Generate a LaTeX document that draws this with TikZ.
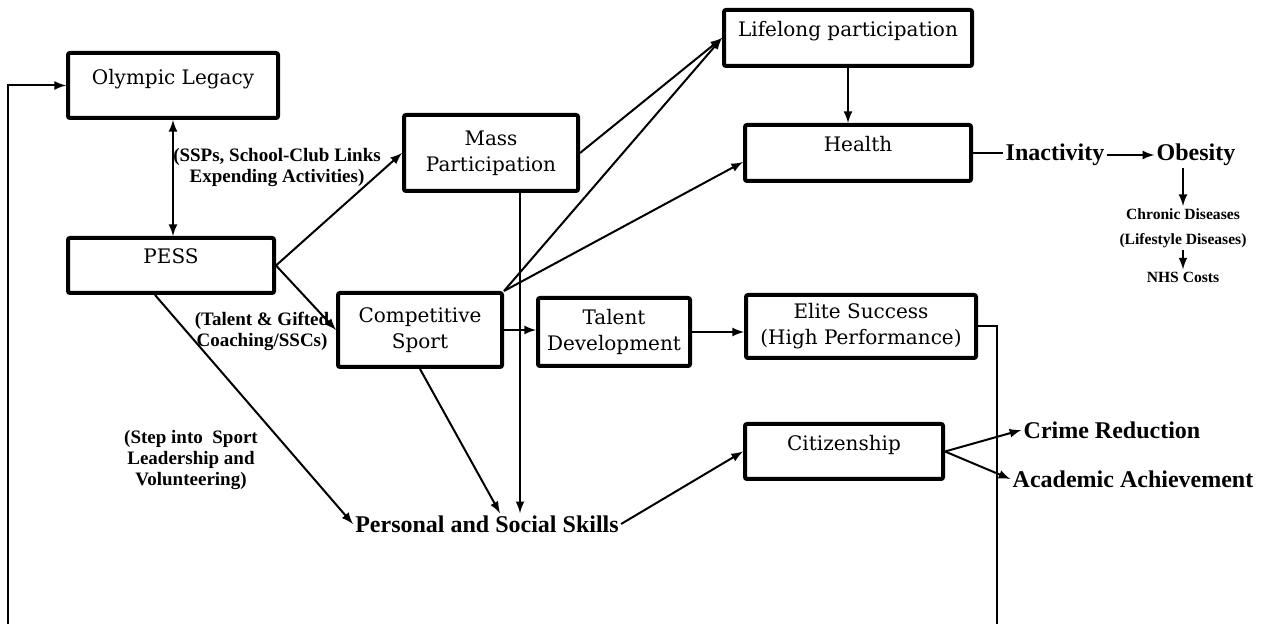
\documentclass[tikz,border=0pt]{standalone}
\usepackage{fontspec}
\setmainfont{DejaVu Serif}
\newfontfamily\lblfont{Liberation Serif}
\usepackage{tikz}
\usetikzlibrary{positioning,shapes,arrows}
\tikzstyle{squared} = [rectangle, rounded corners=1pt, line width=2pt, draw=black, align=center, inner sep=2pt, font=\fontsize{10}{13}\selectfont]
\tikzstyle{lift} = [text depth=9pt]
\tikzstyle{plain} = [align=center, inner sep=1pt, font=\lblfont\bfseries\fontsize{12}{14}\selectfont]
\tikzstyle{note} = [align=center, inner sep=1pt, font=\lblfont\bfseries\fontsize{9.5}{10.5}\selectfont]
\tikzstyle{small} = [align=center, inner sep=1pt, font=\lblfont\bfseries\fontsize{7.8}{12.5}\selectfont]
\tikzstyle{connect} = [line width=1pt,-latex]
\tikzstyle{link} = [line width=1pt]

\begin{document}
\begin{tikzpicture}[x=0.5pt,y=-0.5pt]
			\useasboundingbox (0,0) rectangle (1285,624);
			\clip (0,0) rectangle (1285,624);
			% boxes
			\node (olympic) [squared,lift,minimum width=105pt,minimum height=32.5pt] at (173,85.5) {Olympic Legacy};
			\node (pess) [squared,lift,minimum width=103pt,minimum height=27.5pt] at (171,265.5) {PESS};
			\node (mass) [squared,minimum width=87pt,minimum height=38pt] at (491,153) {Mass\\Participation};
			\node (lifelong) [squared,lift,minimum width=124pt,minimum height=28pt] at (848,38) {Lifelong participation};
			\node (health) [squared,lift,minimum width=113pt,minimum height=28pt] at (858,153) {Health};
			\node (comp) [squared,minimum width=82pt,minimum height=37pt] at (420,330) {Competitive\\Sport};
			\node (talent) [squared,minimum width=76pt,minimum height=34pt] at (614,332) {Talent\\Development};
			\node (elite) [squared,minimum width=115pt,minimum height=31.5pt] at (861,326.5) {Elite Success\\(High Performance)};
			\node (citizen) [squared,lift,minimum width=99pt,minimum height=27.5pt] at (844,451.5) {Citizenship};
			% outcomes
			\node (inact) [plain] at (1055,155) {Inactivity};
			\node (obes) [plain] at (1196,155) {Obesity};
			\node (chronic) [small] at (1183,228) {Chronic Diseases\\(Lifestyle Diseases)};
			\node (nhs) [small] at (1183,277) {NHS Costs};
			\node (crime) [plain] at (1112,430) {Crime Reduction};
			\node (acad) [plain] at (1133,479) {Academic Achievement};
			\node (pss) [plain] at (487,524) {Personal and Social Skills};
			% route labels
			\node (sspnote) [note] at (277,167.5) {(SSPs, School-Club Links\\Expending Activities)};
			\node (tgnote) [note] at (262,331) {(Talent \& Gifted\\Coaching/SSCs)};
			\node (stepnote) [note] at (191,460) {(Step into~ Sport\\Leadership and\\Volunteering)};

			\draw [connect,latex-latex] (olympic.south) -- (olympic.south |- pess.north);
			\draw [connect] (pess.east) -- (mass.west);
			\draw [connect] (pess.east) -- (comp.west);
			\draw [connect] ([xshift=-8pt]pess.south) -- (pss.west);
			\draw [connect] (comp.south) -- ([xshift=6.5pt]pss.north);
			\draw [connect] ([xshift=14.5pt]mass.south) -- ([xshift=16.5pt]pss.north);
			\draw [connect] (mass.east) -- (lifelong.west);
			\draw [connect] (comp.north east) -- (lifelong.west);
			\draw [connect] (comp.north east) -- ([yshift=-4.5pt]health.west);
			\draw [connect] (comp.east) -- (comp.east -| talent.west);
			\draw [connect] (talent.east) -- (talent.east -| elite.west);
			\draw [connect] (lifelong.south) -- (lifelong.south |- health.north);
			\draw [link] (health.east) -- (health.east -| inact.west);
			\draw [connect] (inact) -- (obes);
			\draw [connect] (chronic.north |- obes.south) -- (chronic.north);
			\draw [connect] (chronic) -- (nhs);
			\draw [connect] (pss.east) -- (citizen.west);
			\draw [connect] (citizen.east) -- (crime.west);
			\draw [connect] (citizen.east) -- (acad.west);
			\draw [connect] (elite.east) -- ++(19,0) |- (8,650) |- (olympic.west);
			\end{tikzpicture}
\end{document}
